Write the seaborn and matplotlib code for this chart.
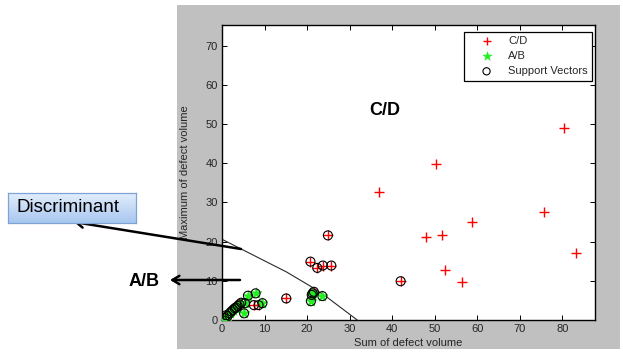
import numpy as np
import pandas as pd
import matplotlib
matplotlib.use("Agg")
import matplotlib.pyplot as plt
import seaborn as sns
from matplotlib.patches import Rectangle
from matplotlib.colors import LinearSegmentedColormap

# ---- data ----
cd_x = [36.8, 50.3, 47.9, 51.8, 58.8, 52.4, 56.5, 75.8, 80.4, 83.2,
        24.9, 20.8, 22.4, 23.7, 25.7, 42.0, 15.1, 21.6, 7.5, 8.6, 1.0, 3.3, 4.1]
cd_y = [32.6, 39.8, 21.1, 21.6, 24.9, 12.8, 9.7, 27.5, 49.0, 17.0,
        21.6, 14.9, 13.3, 13.9, 13.9, 9.9, 5.5, 7.2, 3.8, 3.8, 1.2, 3.2, 4.0]

ab_x = [0.0, 0.5, 1.3, 1.8, 2.2, 2.6, 3.0, 3.7, 4.5, 6.1, 7.9, 5.4, 5.2, 9.5,
        20.9, 21.1, 21.3, 23.6]
ab_y = [0.0, 0.5, 1.0, 1.7, 2.2, 2.6, 3.0, 3.6, 4.4, 6.2, 6.8, 4.3, 1.7, 4.3,
        4.8, 6.4, 6.8, 6.1]

sv_x = [0.0, 0.5, 1.3, 1.8, 2.2, 2.6, 3.0, 3.7, 4.5, 6.1, 7.9, 5.4, 5.2, 9.5,
        20.9, 21.1, 21.3, 23.6,
        24.9, 20.8, 22.4, 23.7, 25.7, 42.0, 15.1, 21.6, 7.5, 8.6, 1.0, 3.3, 4.1]
sv_y = [0.0, 0.5, 1.0, 1.7, 2.2, 2.6, 3.0, 3.6, 4.4, 6.2, 6.8, 4.3, 1.7, 4.3,
        4.8, 6.4, 6.8, 6.1,
        21.6, 14.9, 13.3, 13.9, 13.9, 9.9, 5.5, 7.2, 3.8, 3.8, 1.2, 3.2, 4.0]

disc_x = [0.0, 4.2, 10.0, 15.1, 21.0, 24.6, 28.0, 31.8]
disc_y = [20.6, 18.3, 15.1, 12.3, 8.5, 5.9, 3.1, 0.0]

x_ticks = [0, 10, 20, 30, 40, 50, 60, 70, 80]
y_ticks = [0, 10, 20, 30, 40, 50, 60, 70]

# ---- style ----
sns.set_style("ticks")
plt.rcParams["font.family"] = ["Liberation Sans", "DejaVu Sans"]

W, H = 623, 354
fig = plt.figure(figsize=(W / 100, H / 100), dpi=100)
fig.patch.set_facecolor("white")

# gray MATLAB figure background
fig.patches.append(Rectangle((177 / W, 5 / H), 443 / W, 344 / H,
                             transform=fig.transFigure, facecolor="#c0c0c0",
                             edgecolor="none", zorder=-10))

ax = fig.add_axes([222 / W, 34 / H, 373 / W, 295 / H])
ax.set_facecolor("white")

sns.lineplot(x=disc_x, y=disc_y, ax=ax, color="#2a2a2a", lw=0.8,
             sort=False, estimator=None, legend=False, zorder=2)
sns.scatterplot(x=cd_x, y=cd_y, ax=ax, marker="+", color="#ff0000", s=45,
                linewidth=1.0, label="C/D", zorder=3)
sns.scatterplot(x=ab_x, y=ab_y, ax=ax, marker="*", color="#22ee22", s=70,
                edgecolor="#22ee22", linewidth=0.4, label="A/B", zorder=3)
sns.scatterplot(x=sv_x, y=sv_y, ax=ax, marker="o", color="black",
                facecolor="none", edgecolor="black", s=42, linewidth=0.8,
                label="Support Vectors", zorder=4)

ax.set_xlim(0, 87.7)
ax.set_ylim(0, 75.3)
ax.set_xticks(x_ticks)
ax.set_yticks(y_ticks)
ax.tick_params(direction="in", top=True, right=True, length=3.5, width=0.7,
               labelsize=8, pad=3, colors="black", labelcolor="#262626")
for sp in ax.spines.values():
    sp.set_visible(True)
    sp.set_color("black")
    sp.set_linewidth(1.0)

ax.set_xlabel("Sum of defect volume", fontsize=8, labelpad=3, color="#262626")
ax.set_ylabel("Maximum of defect volume", fontsize=8, labelpad=11, color="#262626")

leg = ax.legend(loc="upper right", bbox_to_anchor=(0.993, 0.977),
                borderaxespad=0, fontsize=8, frameon=True, fancybox=False,
                edgecolor="black", framealpha=1, handlelength=3.2,
                handletextpad=0.36, labelspacing=0.45, borderpad=0.4,
                markerscale=0.8)
leg.get_frame().set_linewidth(0.9)

ax.text(38.3, 53.6, "C/D", fontsize=13, fontweight="bold", ha="center",
        va="center", color="black")

# ---- outside annotations (figure pixels) ----
def fp(x, y):
    return (x, H - y)

ax.annotate("", xy=fp(74, 222), xytext=fp(241, 249),
            xycoords="figure pixels", textcoords="figure pixels",
            annotation_clip=False,
            arrowprops=dict(arrowstyle="->,head_length=0.5,head_width=0.3",
                            color="black", lw=1.8, shrinkA=0, shrinkB=0))
ax.annotate("", xy=fp(170, 280), xytext=fp(240, 280),
            xycoords="figure pixels", textcoords="figure pixels",
            annotation_clip=False,
            arrowprops=dict(arrowstyle="->,head_length=0.5,head_width=0.3",
                            color="black", lw=1.8, shrinkA=0, shrinkB=0))
fig.text(144.5 / W, (H - 281) / H, "A/B", fontsize=13, fontweight="bold",
         ha="center", va="center", color="black")

# Discriminant box with gradient
bx = fig.add_axes([8 / W, (H - 223) / H, 128 / W, 30 / H])
grad = np.linspace(0, 1, 64).reshape(-1, 1)
cmap = LinearSegmentedColormap.from_list("g", ["#e3eefc", "#a8c6ef"])
bx.imshow(grad, aspect="auto", cmap=cmap, extent=[0, 1, 0, 1], origin="upper")
bx.set_xticks([])
bx.set_yticks([])
for sp in bx.spines.values():
    sp.set_color("#7ea3d6")
    sp.set_linewidth(0.9)
bx.text(9 / 128, 0.5, "Discriminant", fontsize=13.5, ha="left", va="center",
        color="black", transform=bx.transAxes)

fig.savefig("out.png", dpi=100)
